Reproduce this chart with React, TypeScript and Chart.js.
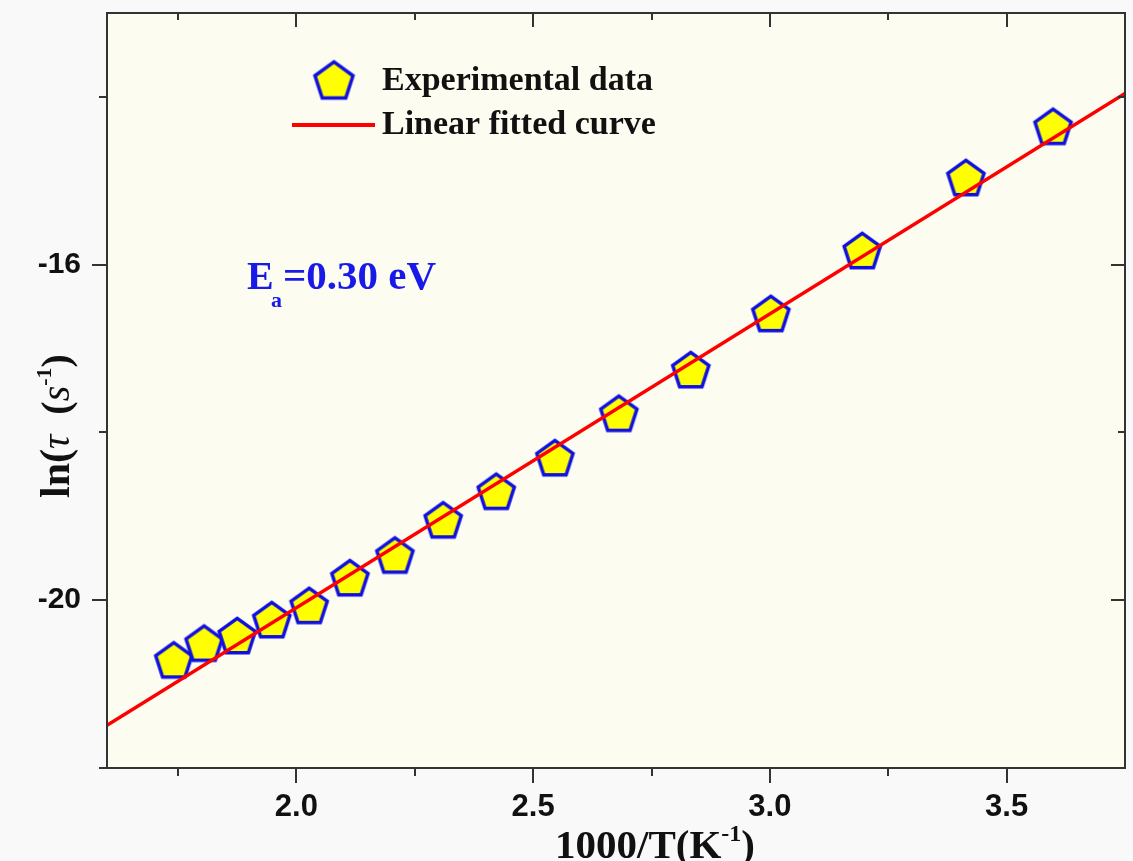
import { useEffect, useRef } from "react";
import { Chart, registerables } from "chart.js";

Chart.register(...registerables);

// ---- data ----
const expX = [1.741, 1.805, 1.875, 1.948, 2.027, 2.113, 2.208, 2.31, 2.422, 2.546, 2.681, 2.833, 3.002, 3.195, 3.414, 3.598];
const expY = [-20.71, -20.51, -20.42, -20.23, -20.06, -19.73, -19.46, -19.04, -18.7, -18.3, -17.77, -17.25, -16.58, -15.83, -14.96, -14.35];
const fitX = [1.6, 3.75];
const fitY = [-21.49, -13.96];

const xTickValues = [1.75, 2.0, 2.25, 2.5, 2.75, 3.0, 3.25, 3.5];
const xMajorValues = [2.0, 2.5, 3.0, 3.5];
const yTickValues = [-22, -20, -18, -16, -14];
const yMajorValues = [-20, -16];

const legendLabels = ["Experimental data", "Linear fitted curve"];
const annotationMain = "E";
const annotationSub = "a";
const annotationRest = "=0.30 eV";

const SERIF = "'Liberation Serif', 'Times New Roman', serif";
const SANS = "'Liberation Sans', Arial, sans-serif";

function makePentagon(R: number, lw: number): HTMLCanvasElement {
  const size = Math.ceil(2 * R + 2 * lw + 4);
  const c = document.createElement("canvas");
  c.width = size;
  c.height = size;
  const ctx = c.getContext("2d")!;
  const cx = size / 2;
  const cy = size / 2 + R * 0.0955;
  ctx.beginPath();
  for (let i = 0; i < 5; i++) {
    const a = -Math.PI / 2 + (i * 2 * Math.PI) / 5;
    const px = cx + R * Math.cos(a);
    const py = cy + R * Math.sin(a);
    if (i === 0) ctx.moveTo(px, py);
    else ctx.lineTo(px, py);
  }
  ctx.closePath();
  ctx.fillStyle = "#ffff00";
  ctx.fill();
  ctx.lineWidth = lw;
  ctx.lineJoin = "miter";
  ctx.strokeStyle = "#1010e0";
  ctx.stroke();
  return c;
}

type Part = { t: string; font: string; dy?: number };
function drawParts(ctx: CanvasRenderingContext2D, parts: Part[], x: number, y: number) {
  let cx = x;
  for (const p of parts) {
    ctx.font = p.font;
    ctx.fillText(p.t, cx, y + (p.dy || 0));
    cx += ctx.measureText(p.t).width;
  }
}

export default function App() {
  const ref = useRef<HTMLCanvasElement | null>(null);

  useEffect(() => {
    if (!ref.current) return;
    const pent = makePentagon(19, 3.5);
    const pentLegend = makePentagon(20, 3.5);

    const decor = {
      id: "decor",
      beforeDraw(chart: any) {
        const { ctx, chartArea: a } = chart;
        ctx.save();
        ctx.fillStyle = "#f9f9f9";
        ctx.fillRect(0, 0, chart.width, chart.height);
        ctx.fillStyle = "#fdfcf1";
        ctx.fillRect(a.left, a.top, a.right - a.left, a.bottom - a.top);
        ctx.restore();
      },
      afterDraw(chart: any) {
        const { ctx, chartArea: a } = chart;
        const xs = chart.scales.x;
        const ys = chart.scales.y;
        ctx.save();
        // ticks
        ctx.strokeStyle = "#333";
        ctx.lineWidth = 2;
        ctx.beginPath();
        for (const v of xTickValues) {
          const px = Math.round(xs.getPixelForValue(v));
          const major = xMajorValues.includes(v);
          const lo = major ? 15 : 8;
          const li = major ? 14 : 7;
          ctx.moveTo(px, a.bottom);
          ctx.lineTo(px, a.bottom + lo);
          ctx.moveTo(px, a.top);
          ctx.lineTo(px, a.top + li);
        }
        for (const v of yTickValues) {
          const py = Math.round(ys.getPixelForValue(v));
          const major = yMajorValues.includes(v);
          const lo = major ? 15 : 8;
          const li = major ? 14 : 7;
          ctx.moveTo(a.left, py);
          ctx.lineTo(a.left - lo, py);
          ctx.moveTo(a.right, py);
          ctx.lineTo(a.right - li, py);
        }
        ctx.stroke();
        // frame
        ctx.strokeRect(a.left, a.top, a.right - a.left, a.bottom - a.top);

        // legend
        ctx.drawImage(pentLegend, 334 - pentLegend.width / 2, 80 - pentLegend.height / 2);
        ctx.strokeStyle = "#ff0000";
        ctx.lineWidth = 4;
        ctx.beginPath();
        ctx.moveTo(292, 125);
        ctx.lineTo(375, 125);
        ctx.stroke();
        ctx.fillStyle = "#111";
        ctx.textBaseline = "alphabetic";
        ctx.textAlign = "left";
        ctx.font = `bold 34px ${SERIF}`;
        ctx.fillText(legendLabels[0], 382, 90);
        ctx.fillText(legendLabels[1], 382, 134);

        // annotation
        ctx.fillStyle = "#1a1ae8";
        ctx.font = `bold 40px ${SERIF}`;
        ctx.fillText(annotationMain, 247, 289);
        ctx.font = `bold 22px ${SERIF}`;
        ctx.fillText(annotationSub, 271, 307);
        ctx.font = `bold 41px ${SERIF}`;
        ctx.fillText(annotationRest, 283, 289);

        // axis titles
        ctx.fillStyle = "#111";
        drawParts(
          ctx,
          [
            { t: "1000/T(K", font: `bold 41px ${SERIF}` },
            { t: "-1", font: `bold 24px ${SERIF}`, dy: -17 },
            { t: ")", font: `bold 41px ${SERIF}` },
          ],
          555,
          858
        );
        ctx.save();
        ctx.translate(69, 498);
        ctx.rotate(-Math.PI / 2);
        drawParts(
          ctx,
          [
            { t: "ln(", font: `bold 42px ${SERIF}` },
            { t: "τ", font: `italic 40px ${SERIF}` },
            { t: "  (", font: `bold 40px ${SERIF}` },
            { t: "s", font: `italic 40px ${SERIF}` },
            { t: "-1", font: `bold 22px ${SERIF}`, dy: -18 },
            { t: ")", font: `bold 40px ${SERIF}` },
          ],
          0,
          0
        );
        ctx.restore();
        ctx.restore();
      },
    };

    const chart = new Chart(ref.current, {
      type: "scatter",
      data: {
        datasets: [
          {
            label: legendLabels[1],
            data: fitX.map((x, i) => ({ x, y: fitY[i] })),
            showLine: true,
            borderColor: "#ff0000",
            borderWidth: 3.5,
            pointRadius: 0,
            order: 0,
          },
          {
            label: legendLabels[0],
            data: expX.map((x, i) => ({ x, y: expY[i] })),
            pointStyle: pent as any,
            pointRadius: 19,
            showLine: false,
            order: 1,
          },
        ],
      },
      options: {
        responsive: false,
        animation: false,
        events: [],
        layout: { autoPadding: false, padding: { left: 0, top: 13, right: 8, bottom: 0 } },
        plugins: {
          legend: { display: false },
          tooltip: { enabled: false },
        },
        scales: {
          x: {
            type: "linear",
            min: 1.6,
            max: 3.75,
            grid: { display: false },
            border: { display: false },
            afterBuildTicks: (s: any) => {
              s.ticks = xTickValues.map((value) => ({ value }));
            },
            afterFit: (s: any) => {
              s.height = 93;
              s.paddingLeft = 0;
              s.paddingRight = 0;
            },
            ticks: {
              autoSkip: false,
              maxRotation: 0,
              padding: 13,
              color: "#111",
              font: { family: SANS, size: 31, weight: "bold" },
              callback: (v: any) => (xMajorValues.includes(Number(v)) ? Number(v).toFixed(1) : ""),
            },
          },
          y: {
            type: "linear",
            min: -22,
            max: -13,
            grid: { display: false },
            border: { display: false },
            afterBuildTicks: (s: any) => {
              s.ticks = yTickValues.map((value) => ({ value }));
            },
            afterFit: (s: any) => {
              s.width = 107;
              s.paddingTop = 0;
              s.paddingBottom = 0;
            },
            ticks: {
              autoSkip: false,
              padding: 18,
              color: "#111",
              font: { family: SANS, size: 30, weight: "bold" },
              callback: (v: any) => (yMajorValues.includes(Number(v)) ? String(v) : ""),
            },
          },
        },
      },
      plugins: [decor],
    });

    return () => chart.destroy();
  }, []);

  return (
    <div style={{ position: "fixed", left: 0, top: 0, width: 1133, height: 861 }}>
      <canvas ref={ref} width={1133} height={861} style={{ display: "block" }} />
    </div>
  );
}
